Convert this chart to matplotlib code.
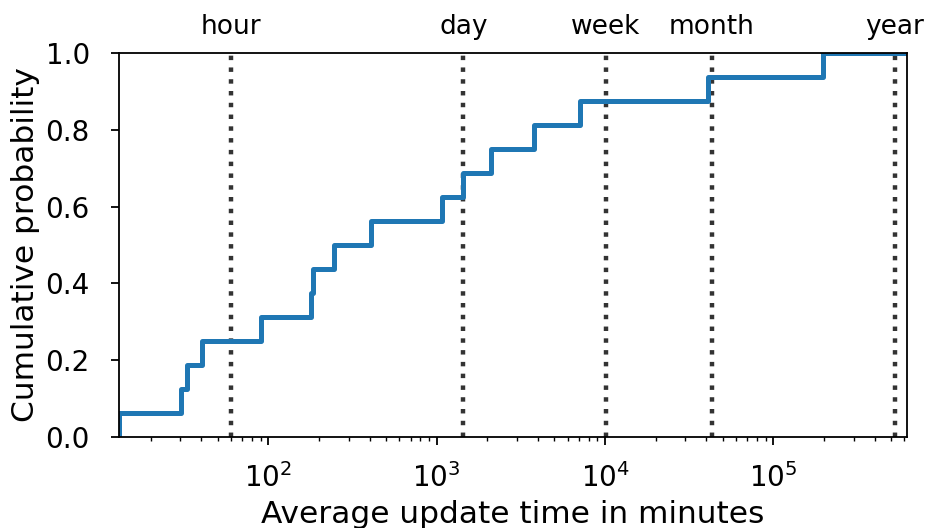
import numpy as np
import matplotlib
matplotlib.use("Agg")
import matplotlib.pyplot as plt
from matplotlib.ticker import LogLocator, NullFormatter

# average update time (minutes) for each of the 16 items
update_minutes = [13, 30.5, 33, 40.6, 91, 180, 184, 246, 409, 1070,
                  1440, 2100, 3780, 7110, 41100, 198000]
x_max = 6.2e5

# reference time marks
mark_labels = ["hour", "day", "week", "month", "year"]
mark_minutes = [60, 1440, 10080, 43200, 525600]

y_ticks = [0.0, 0.2, 0.4, 0.6, 0.8, 1.0]

# empirical CDF
xs = np.sort(np.array(update_minutes, dtype=float))
cdf = np.arange(1, len(xs) + 1) / len(xs)
xs_plot = np.concatenate([[xs[0]], xs, [x_max]])
cdf_plot = np.concatenate([[0.0], cdf, [1.0]])

fig = plt.figure(figsize=(9.3, 5.28), dpi=100)
ax = fig.add_axes([0.128, 0.172, 0.847, 0.728])

for m in mark_minutes:
    ax.axvline(m, color="0.2", lw=3.2, ls=":", zorder=1)

ax.step(xs_plot, cdf_plot, where="post", color="#1f77b4", lw=3.6, zorder=2)

ax.set_xscale("log")
ax.set_xlim(xs[0], x_max)
ax.set_ylim(0, 1)
ax.set_yticks(y_ticks)
ax.set_yticklabels([f"{v:.1f}" for v in y_ticks])
ax.xaxis.set_minor_locator(LogLocator(base=10, subs=np.arange(2, 10)))
ax.xaxis.set_minor_formatter(NullFormatter())

ax.tick_params(axis="both", which="major", labelsize=20, length=6, width=1.3,
               direction="out")
ax.tick_params(axis="x", which="major", pad=13)
ax.tick_params(axis="y", which="major", pad=15)
ax.tick_params(axis="x", which="minor", length=3, width=1)
ax.tick_params(top=False, right=False)

for sp in ax.spines.values():
    sp.set_linewidth(1.3)

ax.set_xlabel("Average update time in minutes", fontsize=22.5, labelpad=5)
ax.set_ylabel("Cumulative probability", fontsize=22.5, labelpad=4)

# labels of the time marks above the axes
for lab, m in zip(mark_labels, mark_minutes):
    ax.text(m, 1.033, lab, transform=ax.get_xaxis_transform(),
            ha="center", va="bottom", fontsize=19)

fig.savefig("out.png", dpi=100)
